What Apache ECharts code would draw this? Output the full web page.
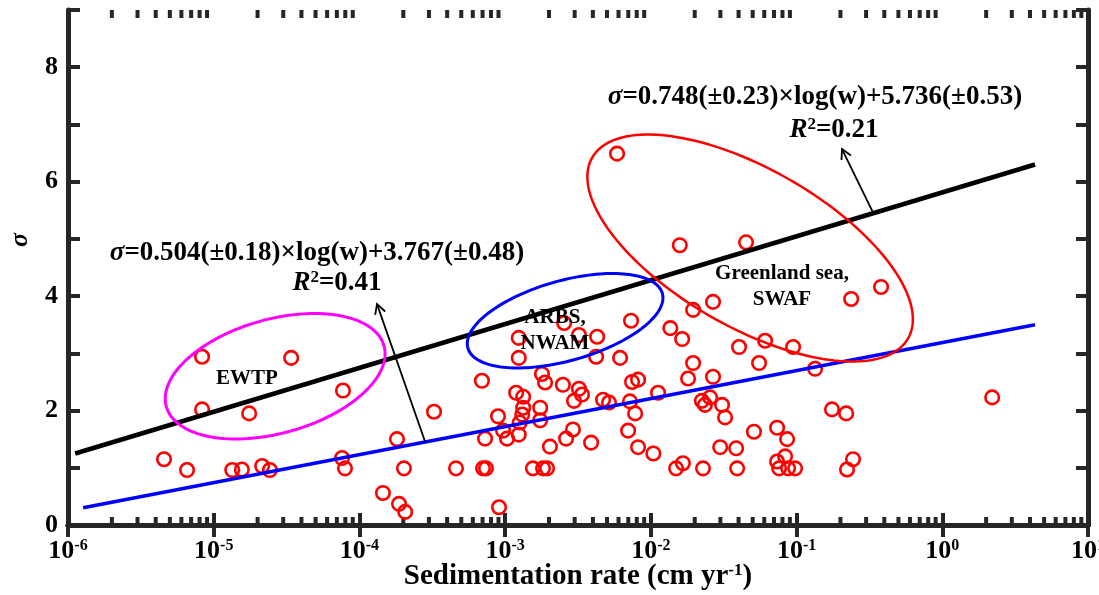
<!DOCTYPE html>
<html>
<head>
<meta charset="utf-8">
<script src="https://cdn.jsdelivr.net/npm/echarts@6/dist/echarts.min.js"></script>
<style>
  html, body { margin: 0; padding: 0; background: #fff; }
  #chart { width: 1099px; height: 595px; }
</style>
</head>
<body>
<div id="chart"></div>
<script>
// sedimentation rate w (cm/yr) and sigma of each sample
const sedRate = [
  4.56e-6, 6.56e-6, 8.32e-6, 8.32e-6, 1.34e-5, 1.56e-5, 1.75e-5, 2.15e-5, 2.43e-5, 3.40e-5,
  7.60e-5, 7.71e-5, 7.96e-5, 1.45e-4, 1.81e-4, 1.87e-4, 2.02e-4, 2.06e-4, 3.25e-4, 4.60e-4,
  6.93e-4, 7.05e-4, 7.39e-4, 7.28e-4, 9.08e-4, 8.93e-4, 9.68e-4, 1.03e-3, 1.19e-3, 1.24e-3,
  1.24e-3, 1.33e-3, 1.33e-3, 1.31e-3, 1.26e-3, 1.24e-3, 1.79e-3, 1.88e-3, 1.74e-3, 1.74e-3,
  1.55e-3, 1.82e-3, 1.94e-3, 2.03e-3, 2.49e-3, 2.54e-3, 2.62e-3, 2.92e-3, 2.97e-3, 3.21e-3,
  3.37e-3, 3.21e-3, 3.89e-3, 4.28e-3, 4.21e-3, 4.70e-3, 5.16e-3, 5.86e-3, 6.15e-3, 7.31e-3,
  7.43e-3, 8.17e-3, 7.19e-3, 7.80e-3, 6.98e-3, 8.17e-3, 1.04e-2, 1.12e-2, 1.36e-2, 1.64e-2,
  1.49e-2, 1.66e-2, 1.58e-2, 1.80e-2, 1.95e-2, 1.95e-2, 2.28e-2, 2.24e-2, 2.35e-2, 2.55e-2,
  2.67e-2, 2.67e-2, 3.08e-2, 3.23e-2, 2.99e-2, 3.85e-2, 3.91e-2, 4.03e-2, 4.50e-2, 5.10e-2,
  5.53e-2, 6.08e-2, 7.35e-2, 8.61e-2, 8.34e-2, 7.35e-2, 7.59e-2, 8.75e-2, 9.77e-2, 9.46e-2,
  0.134, 0.175, 0.219, 0.237, 0.244, 0.222, 0.380, 2.20
];
const sigma = [
  1.15, 0.96, 2.94, 2.02, 0.96, 0.97, 1.95, 1.03, 0.96, 2.92,
  1.17, 2.35, 0.99, 0.56, 1.50, 0.37, 0.99, 0.23, 1.98, 0.99,
  2.52, 0.99, 0.99, 1.51, 0.31, 1.90, 1.65, 1.51, 2.31, 3.27,
  2.92, 2.24, 2.05, 1.93, 1.79, 1.58, 2.64, 2.49, 2.05, 1.83,
  0.99, 0.99, 0.99, 1.37, 2.45, 3.53, 1.51, 1.67, 2.17, 2.38,
  2.28, 3.32, 1.44, 3.29, 2.94, 2.19, 2.14, 6.49, 2.92, 3.57,
  2.50, 2.54, 2.16, 1.95, 1.65, 1.36, 1.25, 2.31, 3.44, 3.25,
  0.99, 1.08, 4.89, 2.56, 2.83, 3.76, 0.99, 2.17, 2.10, 2.23,
  2.59, 3.90, 2.10, 1.88, 1.36, 1.34, 0.99, 3.11, 4.94, 1.63,
  2.83, 3.22, 1.70, 1.50, 1.20, 1.11, 0.99, 0.99, 0.99, 3.11,
  2.73, 2.02, 1.95, 3.95, 1.15, 0.97, 4.16, 2.23
];

// regression lines, start and end as drawn
const fitUpperX = [1.12e-6, 4.33];
const fitUpperY = [1.25, 6.30];
const fitLowerX = [1.27e-6, 4.33];
const fitLowerY = [0.30, 3.50];

// region outlines: centre of each ellipse
const regionCenterX = [2.64e-5, 2.58e-3, 4.8e-2];
const regionCenterY = [2.60, 3.57, 4.84];

// arrows from the fit lines up to the equations
const arrowFromX = [2.82e-4, 0.335];
const arrowFromY = [1.46, 5.46];
const arrowToX = [1.32e-4, 0.205];
const arrowToY = [3.86, 6.57];

const yTickLabels = [0, 2, 4, 6, 8];

const FONT = "'Liberation Serif', 'Times New Roman', serif";
const AXIS_COLOR = '#262626';

// ellipse shapes in pixels (semi axes, tilt in degrees)
const ellipseStyle = [
  { rx: 113, ry: 57, rot: -15.6, color: '#ff00ff', width: 3 },
  { rx: 101, ry: 40, rot: -15.7, color: '#0000ff', width: 3 },
  { rx: 182, ry: 79, rot: 29.8, color: '#ff0000', width: 2.5 }
];

// minor ticks of the log axis: 2..9 in each decade
const minorTicks = [];
for (let d = -6; d <= 0; d++) {
  for (let k = 2; k <= 9; k++) minorTicks.push(k * Math.pow(10, d));
}

const chart = echarts.init(document.getElementById('chart'));

const supRich = {
  s: { fontSize: 16, fontWeight: 'bold', fontFamily: FONT, color: '#000', verticalAlign: 'top' }
};

const eqRich = {
  i: { fontSize: 27, fontWeight: 'bold', fontStyle: 'italic', fontFamily: FONT, color: '#000' },
  b: { fontSize: 27, fontWeight: 'bold', fontFamily: FONT, color: '#000' },
  s: { fontSize: 17, fontWeight: 'bold', fontFamily: FONT, color: '#000', verticalAlign: 'top' }
};
const labelRich = {
  b: { fontSize: 21, fontWeight: 'bold', fontFamily: FONT, color: '#111', lineHeight: 26 }
};

function logAxis(pos, showLabel) {
  return {
    type: 'log',
    logBase: 10,
    position: pos,
    min: 1e-6,
    max: 10,
    axisLine: { show: true, lineStyle: { color: AXIS_COLOR, width: 5 } },
    axisTick: { show: true, inside: true, length: 12, lineStyle: { color: AXIS_COLOR, width: 4 } },
    splitLine: { show: false },
    axisLabel: showLabel ? {
      show: true,
      margin: 13,
      fontSize: 26,
      fontWeight: 'bold',
      fontFamily: FONT,
      color: '#000',
      formatter: v => '10{s|' + Math.round(Math.log10(v)) + '}',
      rich: supRich
    } : { show: false },
    name: showLabel ? 'Sedimentation rate (cm yr{s|-1})' : '',
    nameLocation: 'middle',
    nameGap: 37,
    nameMoveOverlap: false,
    nameTextStyle: {
      fontSize: 29, fontWeight: 'bold', fontFamily: FONT, color: '#000',
      rich: { s: { fontSize: 17, fontWeight: 'bold', fontFamily: FONT, color: '#000', verticalAlign: 'top' } }
    }
  };
}

function valAxis(pos, showLabel) {
  return {
    type: 'value',
    position: pos,
    min: 0,
    max: 9,
    interval: 1,
    axisLine: { show: true, onZero: false, lineStyle: { color: AXIS_COLOR, width: 5 } },
    axisTick: { show: true, inside: true, length: 12, lineStyle: { color: AXIS_COLOR, width: 4 } },
    splitLine: { show: false },
    axisLabel: showLabel ? {
      show: true,
      margin: 10,
      fontSize: 26,
      fontWeight: 'bold',
      fontFamily: FONT,
      color: '#000',
      formatter: v => yTickLabels.includes(v) ? String(v) : ''
    } : { show: false }
  };
}

const option = {
  animation: false,
  backgroundColor: '#fff',
  grid: { left: 68, right: 11, top: 10, bottom: 70, containLabel: false, outerBoundsMode: 'none' },
  xAxis: [logAxis('bottom', true), logAxis('top', false)],
  yAxis: [valAxis('left', true), valAxis('right', false)],
  series: [
    {
      type: 'custom',
      name: 'minor ticks',
      silent: true,
      clip: false,
      z: 1,
      data: minorTicks.map(v => [v, 0]),
      renderItem: (params, api) => {
        const v = api.value(0);
        const b = api.coord([v, 0]);
        const t = api.coord([v, 9]);
        const st = { stroke: AXIS_COLOR, lineWidth: 4 };
        return {
          type: 'group',
          children: [
            { type: 'line', shape: { x1: b[0], y1: b[1], x2: b[0], y2: b[1] - 8 }, style: st },
            { type: 'line', shape: { x1: t[0], y1: t[1], x2: t[0], y2: t[1] + 8 }, style: st }
          ]
        };
      }
    },
    {
      type: 'scatter',
      name: 'samples',
      data: sedRate.map((w, i) => [w, sigma[i]]),
      symbol: 'circle',
      symbolSize: 13.5,
      itemStyle: { color: 'rgba(0,0,0,0)', borderColor: '#ff0000', borderWidth: 2.6, opacity: 1 },
      z: 2
    },
    {
      type: 'line',
      name: 'fit upper',
      data: fitUpperX.map((w, i) => [w, fitUpperY[i]]),
      showSymbol: false,
      lineStyle: { color: '#000', width: 4.5 },
      z: 3
    },
    {
      type: 'line',
      name: 'fit lower',
      data: fitLowerX.map((w, i) => [w, fitLowerY[i]]),
      showSymbol: false,
      lineStyle: { color: '#0000ff', width: 3.5 },
      z: 3
    },
    {
      type: 'custom',
      name: 'regions',
      silent: true,
      clip: false,
      z: 4,
      data: regionCenterX.map((w, i) => [w, regionCenterY[i]]),
      renderItem: (params, api) => {
        const c = api.coord([api.value(0), api.value(1)]);
        const s = ellipseStyle[params.dataIndex];
        const th = s.rot * Math.PI / 180;
        const pts = [];
        for (let k = 0; k <= 160; k++) {
          const t = k / 160 * 2 * Math.PI;
          pts.push([
            c[0] + s.rx * Math.cos(t) * Math.cos(th) - s.ry * Math.sin(t) * Math.sin(th),
            c[1] + s.rx * Math.cos(t) * Math.sin(th) + s.ry * Math.sin(t) * Math.cos(th)
          ]);
        }
        return { type: 'polyline', shape: { points: pts }, style: { stroke: s.color, lineWidth: s.width, fill: null } };
      }
    },
    {
      type: 'custom',
      name: 'arrows',
      silent: true,
      clip: false,
      z: 5,
      encode: { x: [0, 2], y: [1, 3] },
      data: arrowFromX.map((w, i) => [w, arrowFromY[i], arrowToX[i], arrowToY[i]]),
      renderItem: (params, api) => {
        const p0 = api.coord([api.value(0), api.value(1)]);
        const p1 = api.coord([api.value(2), api.value(3)]);
        const ang = Math.atan2(p1[1] - p0[1], p1[0] - p0[0]);
        const L = 11, spread = 0.5;
        const h1 = [p1[0] - L * Math.cos(ang - spread), p1[1] - L * Math.sin(ang - spread)];
        const h2 = [p1[0] - L * Math.cos(ang + spread), p1[1] - L * Math.sin(ang + spread)];
        const st = { stroke: '#000', lineWidth: 1.8, fill: null };
        return {
          type: 'group',
          children: [
            { type: 'line', shape: { x1: p0[0], y1: p0[1], x2: p1[0], y2: p1[1] }, style: st },
            { type: 'polyline', shape: { points: [h1, p1, h2] }, style: st }
          ]
        };
      }
    }
  ],
  graphic: [
    {
      type: 'text', x: 20, y: 240, rotation: Math.PI / 2, z: 10,
      style: { text: 'σ', fontSize: 26, fontWeight: 'bold', fontStyle: 'italic', fontFamily: FONT, fill: '#000', align: 'center', verticalAlign: 'middle' }
    },
    {
      type: 'text', x: 317, y: 253, z: 10,
      style: { text: '{i|σ}{b|=0.504(±0.18)×log(w)+3.767(±0.48)}', rich: eqRich, align: 'center', verticalAlign: 'middle' }
    },
    {
      type: 'text', x: 337, y: 283, z: 10,
      style: { text: '{i|R}{s|2}{b|=0.41}', rich: eqRich, align: 'center', verticalAlign: 'middle' }
    },
    {
      type: 'text', x: 815, y: 97, z: 10,
      style: { text: '{i|σ}{b|=0.748(±0.23)×log(w)+5.736(±0.53)}', rich: eqRich, align: 'center', verticalAlign: 'middle' }
    },
    {
      type: 'text', x: 834, y: 130, z: 10,
      style: { text: '{i|R}{s|2}{b|=0.21}', rich: eqRich, align: 'center', verticalAlign: 'middle' }
    },
    {
      type: 'text', x: 247, y: 379, z: 10,
      style: { text: '{b|EWTP}', rich: labelRich, align: 'center', verticalAlign: 'middle' }
    },
    {
      type: 'text', x: 555, y: 331, z: 10,
      style: { text: '{b|ARBS,}\n{b|NWAM}', rich: labelRich, align: 'center', verticalAlign: 'middle' }
    },
    {
      type: 'text', x: 782, y: 287, z: 10,
      style: { text: '{b|Greenland sea,}\n{b|SWAF}', rich: labelRich, align: 'center', verticalAlign: 'middle' }
    }
  ]
};

chart.setOption(option);
window.addEventListener('resize', () => chart.resize());
</script>
</body>
</html>
